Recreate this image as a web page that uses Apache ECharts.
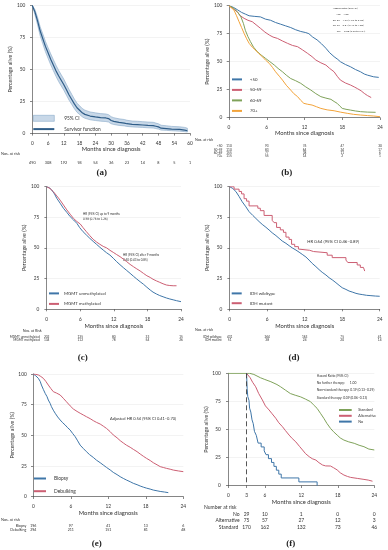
<!DOCTYPE html>
<html><head><meta charset="utf-8">
<script src="https://cdn.jsdelivr.net/npm/echarts@6/dist/echarts.min.js"></script>
<style>html,body{margin:0;padding:0;background:#fff}#c{width:388px;height:550px}</style>
</head><body><div id="c"></div>
<script>
// ---------- DATA ----------
// (a) overall survival, 0-60 months
const monthsA = [0,1,2,3,4,5,6,7,8,9,10,11,12,13,14,15,16,17,18,19,20,22,24,26,28,29,30,31,33,35,36,38,40,42,44,46,47,48,49,51,53,56,58,59];
const survA   = [100,95,88,80,74,68,63,58,53.5,49,45,41.5,38,34,30,26.5,23,20,18,16,14.8,13.5,12.8,12.3,12,11.5,10,9.3,8.5,8,7.5,7,6.8,6.5,6.2,6,5.5,5,4,3.7,3.3,3,2.5,2];
const ciLowA  = [100,92.8,85,76.3,70,63.8,58.7,53.6,49.1,44.6,40.6,37.1,33.7,29.8,25.9,22.6,19.3,16.5,14.7,12.9,11.8,10.6,10,9.5,9.2,8.8,7.5,6.9,6.2,5.8,5.4,5,4.8,4.6,4.3,4.1,3.7,3.3,2.5,2.3,2,1.7,1.3,1];
const ciHighA = [100,96.8,90.8,83.3,77.7,71.9,67,62.2,57.7,53.3,49.3,45.8,42.3,38.2,34.2,30.5,26.8,23.6,21.5,19.4,18.1,16.7,16,15.4,15.1,14.6,13,12.2,11.3,10.8,10.2,9.6,9.4,9.1,8.8,8.6,8,7.4,6.3,5.9,5.4,5.1,4.6,4];
const ticksA = [0,6,12,18,24,30,36,42,48,54,60];
const riskA  = [490,308,192,94,54,36,23,14,8,5,1];

// (b) by age group
const ageLt50 = [[0,100],[0.7,98.5],[1.3,96.5],[2,94],[2.6,92.5],[3.2,91],[4,90.5],[5,90],[5.8,88],[6.6,87],[7.4,85],[8.2,83.5],[9,82],[9.8,80.5],[10.6,78.5],[11.4,77],[12.2,76],[12.7,75],[13.3,72],[14,69.5],[14.7,66],[15.4,62],[16,58],[16.7,54.5],[17.3,52],[17.7,50],[18.5,47.5],[19.3,45.5],[20.1,43],[20.9,41],[21.5,39],[22,38],[23,36.5],[23.8,36]];
const age5059 = [[0,100],[0.6,97.5],[1.3,94.6],[1.8,91],[2.4,88.7],[3,87],[3.7,85.7],[4.3,83],[5,79.8],[5.7,76.5],[6.4,73.8],[7,72],[7.7,70.8],[8.5,68.5],[9.3,66.4],[10.1,64.5],[10.9,63.4],[11.7,60.5],[12.5,57.4],[13.2,54.5],[13.8,51.5],[14.6,49],[15.4,47],[16,44],[16.7,41],[17.2,37],[17.7,33.6],[18.5,31],[19.3,29.2],[19.9,27.5],[20.4,26],[21,24],[21.5,21.7],[22,19.8],[22.6,18]];
const age6069 = [[0,100],[0.8,97.6],[1.4,94],[1.9,90],[2.3,84],[2.6,78],[3,72.5],[3.4,68],[3.9,63],[4.5,59],[5.1,56],[5.8,53],[6.5,50],[7.2,47],[7.8,44],[8.5,41],[9.1,38],[9.8,35],[10.6,33],[11.4,30.7],[12.2,27.5],[13,24.7],[13.8,21.5],[14.6,18.8],[15.4,17.5],[16.2,16.4],[16.7,14.5],[17.2,12.8],[17.6,10.5],[18,8.3],[18.6,7.5],[19.3,6.8],[20.1,6],[20.9,5.4],[22,5],[23.3,4.8]];
const age70   = [[0,100],[0.8,96],[1.2,91],[1.6,85.7],[2,80.5],[2.4,75.3],[2.8,70.5],[3.2,66.4],[3.7,63],[4.2,60.4],[4.7,57.5],[5.3,54.5],[5.8,51.5],[6.4,48.5],[6.9,45],[7.4,41],[8,37],[8.5,33.6],[9.1,29],[9.8,24.7],[10.3,21.5],[10.9,18.8],[11.4,15.5],[11.9,12.8],[12.5,12],[13.2,11.3],[13.9,9.8],[14.6,8.3],[15.6,7],[16.7,6.2],[17.7,5],[18.8,3.9],[19.8,3],[20.9,2.4],[22,1.9],[23,1.5],[24,0.9]];
const riskB = { '<50':[110,93,76,47,30], '50-59':[110,83,64,34,17], '60-69':[155,77,38,11,6], '70+':[115,55,14,2,1] };
const hazardB = ['Hazard Ratio (95% CI)','<50 = 1.00','50-59 = 1.67 (1.22 to 2.28)','60-69 = 3.34 (2.47 to 4.80)','70+ = 5.03 (3.65 to 6.94)'];

// (c) MGMT
const mgmtUnmeth = [[0,100],[0.5,99],[0.9,97.3],[1.4,94],[1.8,90.5],[2.4,86.5],[3,82.3],[3.6,79],[4.2,75.5],[4.8,72.8],[5.4,70],[5.9,66.5],[6.5,63.2],[7.1,60.5],[7.7,57.8],[8.3,55.3],[8.9,52.9],[9.5,50.5],[10.1,48.2],[10.7,46],[11.3,44.1],[11.9,41.5],[12.5,38.7],[13.1,36.2],[13.7,33.8],[14.3,31.5],[14.9,29.2],[15.5,26.8],[16.1,24.5],[16.7,22.3],[17.3,20.2],[17.9,17.8],[18.5,15.5],[19,13.8],[19.6,12.3],[20.2,11],[20.8,10],[21.4,9],[22,8.2],[22.6,7.5],[23.2,6.8],[24,6]];
const mgmtMeth   = [[0,100],[0.6,98.5],[1.2,95.9],[1.8,92.5],[2.4,89],[3,85],[3.6,81],[4.2,77.5],[4.8,74],[5.4,71.5],[6,69.5],[6.5,66.5],[7.1,63.2],[7.7,60],[8.3,57],[8.9,54.8],[9.5,52.9],[10.1,51.2],[10.7,50],[11.3,48],[11.9,46.3],[12.5,44.5],[13.1,42.8],[13.7,40.8],[14.3,38.7],[14.9,36.5],[15.5,34.6],[16.1,32.8],[16.7,31.1],[17.3,29.1],[17.9,27.2],[18.5,25.8],[19,24.3],[19.6,23],[20.2,21.8],[20.8,20.6],[21.4,19.6],[22,19.2],[22.6,19],[23.2,19]];
const riskC = { 'MGMT unmethylated':[202,135,80,33,15], 'MGMT methylated':[134,112,78,54,26] };

// (d) IDH
const idhWild = [[0,100],[0.5,98.5],[1,96],[1.5,92],[2,87.7],[2.6,83.5],[3.1,79.6],[3.7,76.5],[4.2,74],[4.7,71.5],[5.2,69.2],[5.8,66.8],[6.3,64.6],[6.8,62.3],[7.4,60],[7.9,57.8],[8.4,55.6],[9,53.7],[9.5,51.8],[10,50],[10.6,48.2],[11.1,46.5],[11.6,44.7],[12.2,42.5],[12.7,40],[13.2,37.3],[13.8,34.6],[14.3,32.2],[14.8,30],[15.4,27.8],[15.9,25.6],[16.5,23.5],[17,21.5],[17.5,19.4],[18,17.4],[18.6,16],[19.1,14.7],[19.7,13.7],[20.2,12.8],[20.7,12.2],[21.2,11.8],[21.9,11.2],[22.6,10.9],[23.3,10.6],[24,10.4]];
const idhMut  = [[0,100],[0.7,98],[1.5,96.1],[1.9,94.1],[2.3,90.2],[2.7,88.2],[3.1,84.3],[4.5,82.4],[4.9,80.4],[5.5,76.5],[6.8,72.5],[7.1,70.6],[7.5,66.7],[8.1,64.7],[8.6,62.7],[9,58.8],[9.5,56.9],[9.9,52.9],[10.4,51],[11,49],[11.3,48],[12.8,47],[13.4,46],[15.6,44],[16.4,42],[18.6,40],[18.9,38],[20.4,36],[20.9,34],[21.4,33],[21.6,31]];
const riskD = { 'IDH wildtype':[431,264,163,75,41], 'IDH mutant':[51,38,24,20,14] };

// (e) extent of resection
const biopsy = [[0,100],[0.4,98.5],[0.8,96.5],[1.1,94],[1.3,91],[1.6,87.5],[1.9,84.2],[2.2,81.5],[2.4,78.8],[2.7,76],[2.9,73.4],[3.2,70.5],[3.5,68],[3.9,65],[4.3,62.5],[4.7,60.3],[5.1,58.4],[5.5,56.2],[5.9,54.3],[6.3,51.5],[6.7,48.9],[7.1,45.5],[7.5,42],[8,39.3],[8.5,36.7],[9,34.3],[9.6,32],[10.1,29.8],[10.7,27.7],[11.2,25.8],[11.7,23.9],[12.3,21.8],[12.8,19.8],[13.4,18],[13.9,16.3],[14.4,14.9],[14.9,13.6],[15.5,12.2],[16,10.9],[16.6,9.8],[17.1,8.7],[17.6,7.8],[18.1,7],[18.7,6.2],[19.2,5.4],[19.8,4.8],[20.3,4.3],[21,3.8],[21.6,3.3]];
const debulking = [[0,100],[0.4,99.7],[0.8,99.2],[1.2,98],[1.6,96.5],[2,94],[2.4,91],[2.8,88.2],[3.2,85.6],[3.7,84.5],[4.3,82.9],[4.8,80.2],[5.3,77.4],[5.9,74],[6.4,71.5],[7,69.5],[7.5,68],[8,66.6],[8.5,65.2],[9.1,63.6],[9.6,62],[10.1,60.6],[10.7,59.2],[11.2,57.5],[11.7,55.7],[12.3,53],[12.8,50.3],[13.4,48],[13.9,45.7],[14.4,43.8],[14.9,42],[15.5,40.3],[16,38.6],[16.6,36.7],[17.1,34.8],[17.6,33],[18.1,31.3],[18.7,29.5],[19.2,27.7],[19.8,26],[20.3,24.5],[20.8,23.8],[21.3,23.1],[21.9,22.4],[22.4,21.7],[23.2,21],[24,20.4]];
const riskE = { 'Biopsy':[196,97,41,13,6], 'Debulking':[294,211,151,81,48] };

// (f) second-line therapy (landmark at 3 months)
const ticksF = [0,3,6,12,18,24];
const riskColsF = [3,6,12,18,24];
const stdTher = [[0,100],[3.5,100],[4.2,99],[5.3,96],[6,94.5],[7,92.5],[8,90],[8.6,88],[9.4,85],[10.2,82],[11,80.5],[11.9,79],[12.7,77],[13.5,74.8],[14,72],[14.6,68.8],[15.2,64],[15.7,60],[16.2,55.5],[16.8,51],[17.3,48],[17.9,45],[18.4,42.5],[19,40.6],[19.8,39],[20.7,37.7],[21.5,36],[22.3,34.7],[23.1,32.6],[24,31.8]];
const altTher = [[3,100],[3.3,99],[3.6,96],[4,92],[4.5,88],[5,82],[5.6,76.3],[6.1,71],[6.7,67.4],[7.2,64],[7.8,60],[8.3,56],[8.9,52.5],[9.4,49],[10,45],[10.5,42],[11.1,39],[11.7,35],[12.2,31.8],[12.7,28.5],[13.3,25.8],[13.8,24],[14.4,22.8],[14.9,20.5],[15.5,18.4],[16,17.6],[16.8,17.5],[17.3,16],[17.9,14],[18.4,11.5],[19,9.5],[19.6,8.2],[20.1,7.4],[21.2,6.5],[22.3,5.6],[23,5],[23.7,4]];
const noTher  = [[3,100],[3.05,93.1],[3.1,86.2],[3.2,79.3],[3.4,75.9],[3.5,69],[3.7,65.5],[3.9,58.6],[4.1,55.2],[4.3,48.3],[4.6,44.8],[4.9,37.9],[5.4,34.5],[5.9,31],[6.2,27.6],[6.6,24.1],[7.1,20.7],[7.5,17.2],[7.9,13.8],[8.3,10.3],[8.7,6.9],[11.6,3.4],[14.6,0]];
const riskF = { 'No':[29,10,1,0,0], 'Alternative':[75,57,27,12,3], 'Standard':[170,162,132,73,46] };
const hazardF = ['Hazard Ratio (95% CI)','No further therapy:      1.00','Non-standard therapy: 0.19 (0.13\u20130.29)','Standard therapy: 0.09 (0.06\u20130.13)'];

// ---------- STYLE ----------
const FONT = 'Lato, "Open Sans", sans-serif';
const TXT = '#333', AX = '#555';
const BLUE = '#3f76a8', RED = '#cc5f73', GREEN = '#7fa25a', ORANGE = '#f2a33a';

const grids = [
  {left:32.3, top:5.5,   width:157.7, height:127.8},
  {left:229,  top:5.7,   width:151,   height:112},
  {left:46.7, top:186.7, width:134.3, height:122.3},
  {left:229.7,top:186.7, width:150,   height:122.3},
  {left:33.3, top:374,   width:150,   height:122.7},
  {left:228.3,top:373.3, width:146,   height:112.4}
];
const yOff = [3, 2.7, 3.4, 3.4, 2.6, 3.6];
const xOff = [3.4, 3, 4.3, 4.3, 3.3, 3.3];
const yGap = [12.5, 14, 14, 14, 15, 15];

function mainX(gi, max, custom) {
  const ax = {gridIndex:gi, type:'value', min:0, max:max, interval:6, position:'bottom', offset:xOff[gi],
    name:'Months since diagnosis', nameLocation:'middle', nameGap:8.8,
    nameTextStyle:{fontSize:5.8, fontFamily:FONT, color:TXT, verticalAlign:'top'},
    axisLine:{show:true, lineStyle:{color:AX, width:0.7}},
    axisTick:{show:true, length:2.3, lineStyle:{color:AX, width:0.7}},
    axisLabel:{fontSize:4.8, fontFamily:FONT, color:TXT, margin:4},
    splitLine:{show:false}};
  if (custom) { ax.axisLabel.customValues = custom; ax.axisTick.customValues = custom; }
  return ax;
}
function mainY(gi) {
  return {gridIndex:gi, type:'value', min:0, max:100, interval:25, offset:yOff[gi],
    name:'Percentage alive (%)', nameLocation:'middle', nameGap:yGap[gi], nameRotate:90,
    nameTextStyle:{fontSize:5.3, fontFamily:FONT, color:TXT},
    axisLine:{show:true, lineStyle:{color:AX, width:0.7}},
    axisTick:{show:true, length:2.3, lineStyle:{color:AX, width:0.7}},
    axisLabel:{fontSize:4.8, fontFamily:FONT, color:TXT, margin:4},
    splitLine:{show:true, lineStyle:{color:'#ebebeb', width:0.6}}};
}
function riskAxis(gi, max, cols, vals, label, offset, fs, gap) {
  return {gridIndex:gi, type:'value', min:0, max:max, position:'bottom', offset:offset,
    axisLine:{show:false}, axisTick:{show:false}, splitLine:{show:false},
    axisLabel:{customValues:cols, formatter:function(v){const i=cols.indexOf(v); return i<0?'':String(vals[i]);},
      fontSize:fs, fontFamily:FONT, color:TXT, margin:0, verticalAlign:'top'},
    name:label||'', nameLocation:'start', nameGap:gap,
    nameTextStyle:{fontSize:fs, fontFamily:FONT, color:TXT, verticalAlign:'top', align:'right'}};
}
function curve(name, gi, data, color, step, w) {
  return {type:'line', name:name, xAxisIndex:gi, yAxisIndex:gi, data:data, symbol:'none',
    step: step ? 'end' : false, lineStyle:{color:color, width:w||1}, itemStyle:{color:color},
    z:3, silent:true, animation:false};
}
function legend(names, left, top, iw, ih, gap, fs, pad) {
  return {data:names, left:left, top:top, orient:'vertical', itemWidth:iw, itemHeight:ih, itemGap:gap,
    selectedMode:false, padding:0, itemStyle:{opacity:0},
    textStyle:{fontSize:fs, fontFamily:FONT, color:TXT, padding:[0,0,0,pad]}};
}
function txt(s, x, y, fs, align, extra) {
  return {type:'text', x:x, y:y, silent:true,
    style:Object.assign({text:s, fontSize:fs, fontFamily:FONT, fill:TXT, align:align||'left', verticalAlign:'middle'}, extra||{})};
}
function panelLabel(s, x, y) {
  return txt(s, x, y, 9, 'center', {fontFamily:'"Liberation Serif", "DejaVu Serif", serif', fontWeight:'bold', fill:'#222'});
}

// ---------- AXES ----------
const xAxes = [mainX(0,60), mainX(1,24), mainX(2,24), mainX(3,24), mainX(4,24), mainX(5,24,ticksF)];
const yAxes = [0,1,2,3,4,5].map(mainY);
const cols24 = [0,6,12,18,24];
xAxes.push(riskAxis(0, 60, ticksA, riskA, '', 27.1, 3.8, 4));
Object.keys(riskB).forEach((k,i)=> xAxes.push(riskAxis(1, 24, cols24, riskB[k], k, 27.0 + i*3.4, 3.2, 4)));
Object.keys(riskC).forEach((k,i)=> xAxes.push(riskAxis(2, 24, cols24, riskC[k], k, 26.4 + i*3.4, 3.2, 5)));
Object.keys(riskD).forEach((k,i)=> xAxes.push(riskAxis(3, 24, cols24, riskD[k], k, 26.1 + i*3.4, 3.2, 8)));
Object.keys(riskE).forEach((k,i)=> xAxes.push(riskAxis(4, 24, cols24, riskE[k], k, 27.2 + i*4.3, 3.6, 5.6)));
Object.keys(riskF).forEach((k,i)=> xAxes.push(riskAxis(5, 24, riskColsF, riskF[k], k, 26.1 + i*6.5, 5, -11.4)));

// ---------- SERIES ----------
const series = [
  {type:'custom', name:'95% CI', xAxisIndex:0, yAxisIndex:0, silent:true, z:2, animation:false,
    data: monthsA.map((t,i)=>[t, ciLowA[i], ciHighA[i]]),
    encode:{x:0, y:[1,2]}, itemStyle:{color:'#c8d8e8'},
    renderItem:function(params, api){
      if (params.dataIndex !== 0) return null;
      const pts = [];
      for (let i=0;i<monthsA.length;i++) pts.push(api.coord([monthsA[i], ciHighA[i]]));
      for (let i=monthsA.length-1;i>=0;i--) pts.push(api.coord([monthsA[i], ciLowA[i]]));
      return {type:'polygon', shape:{points:pts}, style:{fill:'#c8d8e8', stroke:'#86a8c8', lineWidth:0.6}};
    }},
  curve('Survivor function', 0, monthsA.map((t,i)=>[t, survA[i]]), '#2f5d88', false, 1.2),
  curve('<50', 1, ageLt50, BLUE), curve('50-59', 1, age5059, RED),
  curve('60-69', 1, age6069, GREEN), curve('70+', 1, age70, ORANGE),
  curve('MGMT unmethylated', 2, mgmtUnmeth, BLUE), curve('MGMT methylated', 2, mgmtMeth, RED),
  curve('IDH wildtype', 3, idhWild, BLUE), curve('IDH mutant', 3, idhMut, RED, true),
  curve('Biopsy', 4, biopsy, BLUE), curve('Debulking', 4, debulking, RED),
  Object.assign(curve('Standard', 5, stdTher, GREEN), {
    markLine:{silent:true, symbol:'none', animation:false, label:{show:false},
      lineStyle:{color:'#444', width:0.9, type:[5,3]},
      data:[[{coord:[3,100]},{coord:[3,0]}]]}}),
  curve('Alternative', 5, altTher, RED),
  curve('No', 5, noTher, BLUE, true)
];

// ---------- LEGENDS ----------
const legends = [
  legend([{name:'95% CI', icon:'rect', itemStyle:{color:'#c8d8e8', borderColor:'#86a8c8', borderWidth:0.6, opacity:1}}, 'Survivor function'], 32.3, 115, 21, 6, 5, 4.8, 5),
  legend(['<50','50-59','60-69','70+'], 231, 77, 10, 6, 5.7, 4.3, 3),
  legend(['MGMT unmethylated','MGMT methylated'], 48, 291, 10, 6, 5.7, 4.4, 0),
  legend(['IDH wildtype','IDH mutant'], 230.7, 291, 10, 6, 5, 4.4, 3),
  legend(['Biopsy','Debulking'], 33, 476, 12, 6, 7.7, 4.9, 3),
  legend(['Standard','Alternative','No'], 338, 408, 12.7, 4, 1.8, 3.7, 1.6)
];

// ---------- TEXT ----------
const graphics = [
  txt('Nos. at risk', 1, 154, 3.9), panelLabel('(a)', 101.7, 173),
  txt('Nos. at risk', 195, 140, 3.7), panelLabel('(b)', 286.7, 172.5),
  txt('Nos. at Risk', 41.7, 330.7, 3.7, 'right'), panelLabel('(c)', 82.7, 358),
  txt('Nos. at risk', 195, 330, 3.7), panelLabel('(d)', 294, 357.7),
  txt('Nos. at risk', 1, 519.3, 3.9), panelLabel('(e)', 96.7, 543.3),
  txt('Number at risk', 204, 507.7, 5), panelLabel('(f)', 290.7, 544),
  txt('HR (95% CI) up to 9 months', 83, 214, 3),
  txt('0.98 (0.76 to 1.26)', 83, 219.5, 3),
  txt('HR (95% CI) after 9 months', 123, 254.7, 3),
  txt('0.60 (0.43 to 0.85)', 123, 260.3, 3),
  txt('HR 0.64 (95% CI 0.46\u20130.89)', 307.3, 241.7, 4.2),
  txt('Adjusted HR 0.54 (95% CI 0.41\u20130.70)', 110, 418.3, 4)
];
const hbX = [332.7, 336, 332.7, 332.7, 336.7], hbY = [8.2, 14.2, 19.9, 25.4, 30.7];
hazardB.forEach((s,i)=> graphics.push(txt(s, hbX[i], hbY[i], 2.6)));
const hfY = [375.7, 383, 390.3, 397.7];
hazardF.forEach((s,i)=> graphics.push(txt(s, 316.7, hfY[i], 3.3)));

const chart = echarts.init(document.getElementById('c'), null, {renderer:'canvas'});
chart.setOption({
  animation:false, backgroundColor:'#fff',
  textStyle:{fontFamily:FONT},
  grid: grids, xAxis: xAxes, yAxis: yAxes, series: series, legend: legends,
  graphic: graphics
});
</script></body></html>
